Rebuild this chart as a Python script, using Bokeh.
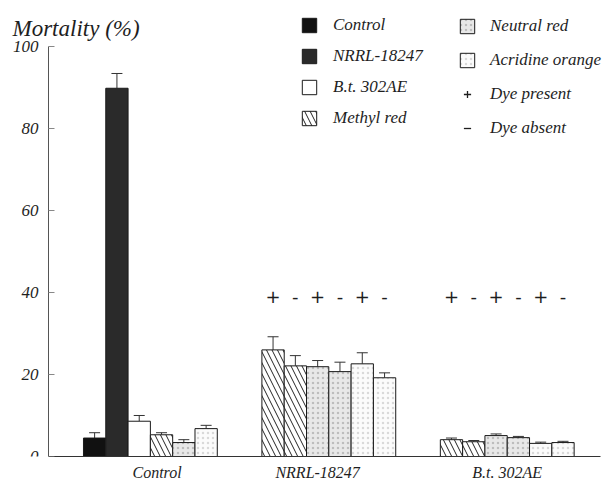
from bokeh.plotting import figure
from bokeh.models import (ColumnDataSource, Range1d, FixedTicker, Legend, LegendItem,
                          Label, Whisker, TeeHead)
from bokeh.core.properties import value
from bokeh.embed import file_html
from bokeh.resources import INLINE

# ---------------- data ----------------
groups = ["Control", "NRRL-18247", "B.t. 302AE"]

control_series = ["Control", "NRRL-18247", "B.t. 302AE", "Methyl red", "Neutral red", "Acridine orange"]
control_values = [4.5, 89.8, 8.6, 5.3, 3.4, 6.8]
control_errors = [1.3, 3.6, 1.4, 0.5, 0.7, 0.8]

dye_series = ["Methyl red", "Methyl red", "Neutral red", "Neutral red", "Acridine orange", "Acridine orange"]
dye_state = ["+", "-", "+", "-", "+", "-"]
nrrl_values = [26.0, 22.1, 21.9, 20.7, 22.6, 19.2]
nrrl_errors = [3.2, 2.5, 1.5, 2.3, 2.7, 1.2]
bt_values = [4.1, 3.6, 5.1, 4.6, 3.2, 3.4]
bt_errors = [0.4, 0.3, 0.4, 0.3, 0.3, 0.3]

y_ticks = [0, 20, 40, 60, 80, 100]

legend_col1 = ["Control", "NRRL-18247", "B.t. 302AE", "Methyl red"]
legend_col2 = ["Neutral red", "Acridine orange"]

# ---------------- styles / layout ----------------
FONT = "Liberation Serif"
TXT = "#1e1e1e"
styles = {
    "Control": dict(fill_color="#111111"),
    "NRRL-18247": dict(fill_color="#2a2a2a"),
    "B.t. 302AE": dict(fill_color="white"),
    "Methyl red": dict(fill_color="white", hatch_pattern="\\", hatch_scale=11,
                       hatch_color="#222222", hatch_weight=1),
    "Neutral red": dict(fill_color="#e8e8e8", hatch_pattern=".", hatch_scale=5,
                        hatch_color="#bdbdbd"),
    "Acridine orange": dict(fill_color="#fbfbfb", hatch_pattern=".", hatch_scale=5,
                            hatch_color="#9a9a9a", hatch_alpha=0.35),
}

GROUP_STEP = 8                      # 6 bars + 2 bar-widths gap
AXIS_X = -1.57                      # where the y axis sits (in bar-width units)
X_END = 23.2                        # right end of the baseline
LABEL_SHIFT = [0.3, -0.5, 0.0]      # small horizontal nudges of the group labels

p = figure(width=608, height=483, output_backend="svg", toolbar_location=None,
           x_range=Range1d(-3.72, 23.54), y_range=Range1d(0, 111.2),
           min_border_left=0, min_border_right=0, min_border_top=0, min_border_bottom=26)
p.outline_line_color = None
p.xgrid.visible = False
p.ygrid.visible = False
p.background_fill_color = "white"
p.border_fill_color = "white"

bars = {s: dict(left=[], right=[], top=[]) for s in styles}
err = dict(x=[], lower=[], upper=[])
dye_txt = dict(x=[], text=[])

group_data = [
    (control_series, control_values, control_errors, None),
    (dye_series, nrrl_values, nrrl_errors, dye_state),
    (dye_series, bt_values, bt_errors, dye_state),
]
label_pos = []
for g, (series, vals, errs, states) in enumerate(group_data):
    start = g * GROUP_STEP
    label_pos.append(start + len(series) / 2 + LABEL_SHIFT[g])
    for i, (s, v, e) in enumerate(zip(series, vals, errs)):
        left = start + i
        bars[s]["left"].append(left)
        bars[s]["right"].append(left + 1)
        bars[s]["top"].append(v)
        err["x"].append(left + 0.5)
        err["lower"].append(v)
        err["upper"].append(v + e)
        if states is not None:
            dye_txt["x"].append(left + 0.5)
            dye_txt["text"].append(states[i])

renderers = {}
for s, st in styles.items():
    src = ColumnDataSource(bars[s])
    renderers[s] = p.quad(left="left", right="right", bottom=0, top="top", source=src,
                          line_color="#1a1a1a", line_width=1, **st)

esrc = ColumnDataSource(err)
p.add_layout(Whisker(source=esrc, base="x", lower="lower", upper="upper", dimension="height",
                     line_color="#333333", line_width=1,
                     upper_head=TeeHead(size=11, line_color="#333333", line_width=1),
                     lower_head=None))

p.text(x="x", y=39, text="text", source=ColumnDataSource(dye_txt),
       text_font=value("DejaVu Sans"), text_font_size="18px", text_color=TXT,
       text_align="center", text_baseline="middle")

# legend glyphs for dye present / absent (no visible data point)
nan = float("nan")
r_plus = p.scatter(x=[nan], y=[nan], marker="cross", size=11, line_color=TXT, line_width=1.3)
r_minus = p.scatter(x=[nan], y=[nan], marker="dash", size=5, line_color=TXT, line_width=1.3)

leg_common = dict(glyph_width=18, glyph_height=18, label_height=18, padding=0, margin=0,
                  border_line_color=None, background_fill_alpha=0,
                  label_text_font=FONT, label_text_font_style="italic",
                  label_text_font_size="17px", label_text_color=TXT)

leg1 = Legend(items=[LegendItem(label=s, renderers=[renderers[s]]) for s in legend_col1],
              location=(300, 328), spacing=11, label_standoff=15, **leg_common)
items2 = [LegendItem(label=s, renderers=[renderers[s]]) for s in legend_col2]
items2 += [LegendItem(label="Dye present", renderers=[r_plus]),
           LegendItem(label="Dye absent", renderers=[r_minus])]
leg2 = Legend(items=items2, location=(458, 318), spacing=14, label_standoff=14, **leg_common)
p.add_layout(leg1)
p.add_layout(leg2)

# y axis, drawn inside the frame at a fixed x
ya = p.yaxis[0]
ya.fixed_location = AXIS_X
ya.ticker = FixedTicker(ticks=y_ticks)
ya.bounds = (0, 100)
ya.axis_label = None
ya.major_tick_in = 6
ya.major_tick_out = 0
ya.minor_tick_line_color = None
ya.axis_line_color = "#555555"
ya.major_tick_line_color = "#888888"
ya.major_label_standoff = 10
ya.major_label_text_font = FONT
ya.major_label_text_font_style = "italic"
ya.major_label_text_font_size = "17px"
ya.major_label_text_color = TXT

xa = p.xaxis[0]
xa.ticker = FixedTicker(ticks=label_pos)
xa.bounds = (AXIS_X, X_END)
xa.axis_label = None
xa.major_label_overrides = {c: name for c, name in zip(label_pos, groups)}
xa.major_tick_line_color = None
xa.minor_tick_line_color = None
xa.axis_line_color = "#333333"
xa.major_label_standoff = 1
xa.major_label_text_font = FONT
xa.major_label_text_font_style = "italic"
xa.major_label_text_font_size = "16px"
xa.major_label_text_color = TXT

p.add_layout(Label(x=12, y=428, x_units="screen", y_units="screen", text="Mortality (%)",
                   text_font=FONT, text_font_style="italic", text_font_size="23px",
                   text_baseline="alphabetic", text_color=TXT))

open("out.html", "w").write(file_html(p, INLINE))
